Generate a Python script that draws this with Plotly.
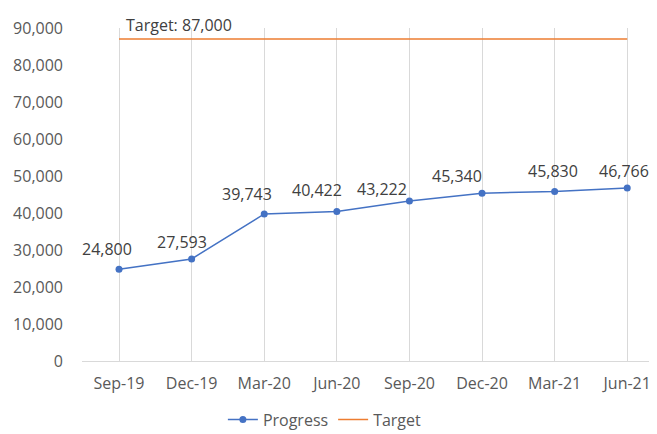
import plotly.graph_objects as go

categories = ["Sep-19", "Dec-19", "Mar-20", "Jun-20", "Sep-20", "Dec-20", "Mar-21", "Jun-21"]
progress = [24800, 27593, 39743, 40422, 43222, 45340, 45830, 46766]
target = [87000] * 8
target_label = "Target: 87,000"

# label placement offsets in px (x right, y up) relative to each point
label_dx = [-12, -10, -17, -20, -27, -25, -2, -3]
label_dy = [20, 17, 20, 21, 12, 17, 20, 17]

FONT = "Open Sans, sans-serif"
FS = 16

fig = go.Figure()
fig.add_trace(go.Scatter(
    x=categories, y=progress, name="Progress", mode="lines+markers",
    line=dict(color="#4472C4", width=1.5),
    marker=dict(color="#4472C4", size=7),
    cliponaxis=False,
))
fig.add_trace(go.Scatter(
    x=categories, y=target, name="Target", mode="lines",
    line=dict(color="#ED7D31", width=1.5),
    cliponaxis=False,
))

for c, v, dx, dy in zip(categories, progress, label_dx, label_dy):
    fig.add_annotation(x=c, y=v, xref="x", yref="y", text=f"{v:,}", showarrow=False,
                       xanchor="center", yanchor="middle", xshift=dx, yshift=dy,
                       font=dict(size=FS, color="#404040", family=FONT))
fig.add_annotation(x=categories[0], y=target[0], xref="x", yref="y", text=target_label,
                   showarrow=False, xanchor="left", yanchor="middle", xshift=5, yshift=14,
                   font=dict(size=FS, color="#404040", family=FONT))

fig.update_layout(
    width=649, height=426,
    margin=dict(l=74, r=0, t=20, b=73, autoexpand=False),
    plot_bgcolor="white", paper_bgcolor="white",
    font=dict(family=FONT, size=FS, color="#595959"),
    showlegend=True,
    legend=dict(orientation="h", x=0.245, xanchor="left", y=-0.125, yanchor="top",
                font=dict(size=FS, color="#595959"), itemwidth=30),
    xaxis=dict(
        type="category", range=[-0.51, 7.41], automargin=False,
        showgrid=True, gridcolor="#D9D9D9", gridwidth=1,
        showline=True, linecolor="#D9D9D9", linewidth=1,
        ticks="", ticklabelstandoff=8, zeroline=False,
    ),
    yaxis=dict(
        range=[0, 90000], dtick=10000, tickformat=",", automargin=False,
        showgrid=False, zeroline=False, showline=False,
        ticks="", ticklabelstandoff=18,
    ),
)

fig.write_html("out.html")
